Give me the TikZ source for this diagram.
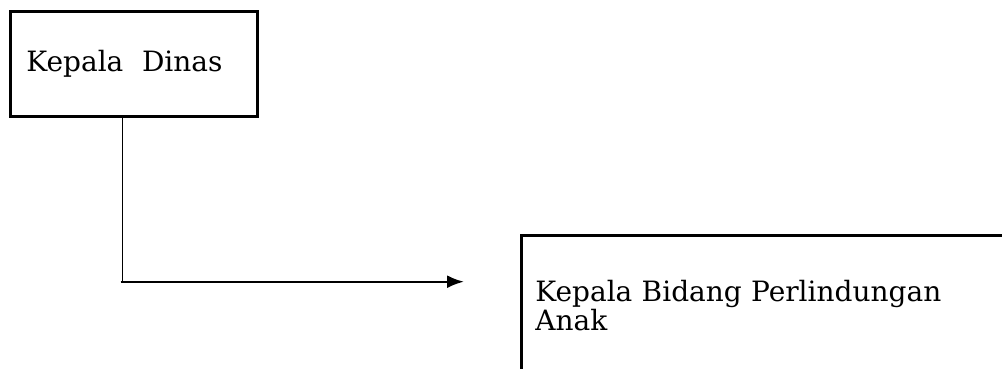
\documentclass[tikz,border=0pt]{standalone}
\usepackage{fontspec}
\setmainfont{DejaVu Serif}
\usetikzlibrary{arrows.meta}
\tikzset{
  boxstyle/.style={draw, line width=2.8pt, rectangle, align=left, font=\fontsize{28}{29}\selectfont},
  connector/.style={line width=2.4pt}
}
\begin{document}
\begin{tikzpicture}[x=1pt,y=-1pt]
\useasboundingbox (0,0) rectangle (1002,368);
\clip (0,0) rectangle (1002,368);
\node[boxstyle, anchor=north west, minimum width=247pt, minimum height=105pt, text width=215pt, inner xsep=15pt] (kd) at (9,10) {Kepala\ \ Dinas};
\node[boxstyle, anchor=north west, text width=460pt, inner xsep=14pt, inner ysep=45pt] (kb) at (520,234) {Kepala Bidang Perlindungan\\Anak};
\coordinate (top) at (122.5,118);
\coordinate (corner) at (122.5,281.7);
\coordinate (start) at (120.7,281.7);
\coordinate (tip) at (464,281.7);
\draw[line width=1.9pt] (top) -- (corner);
\draw[connector, -{Latex[length=17pt,width=13pt]}] (start) -- (tip);
\end{tikzpicture}
\end{document}
